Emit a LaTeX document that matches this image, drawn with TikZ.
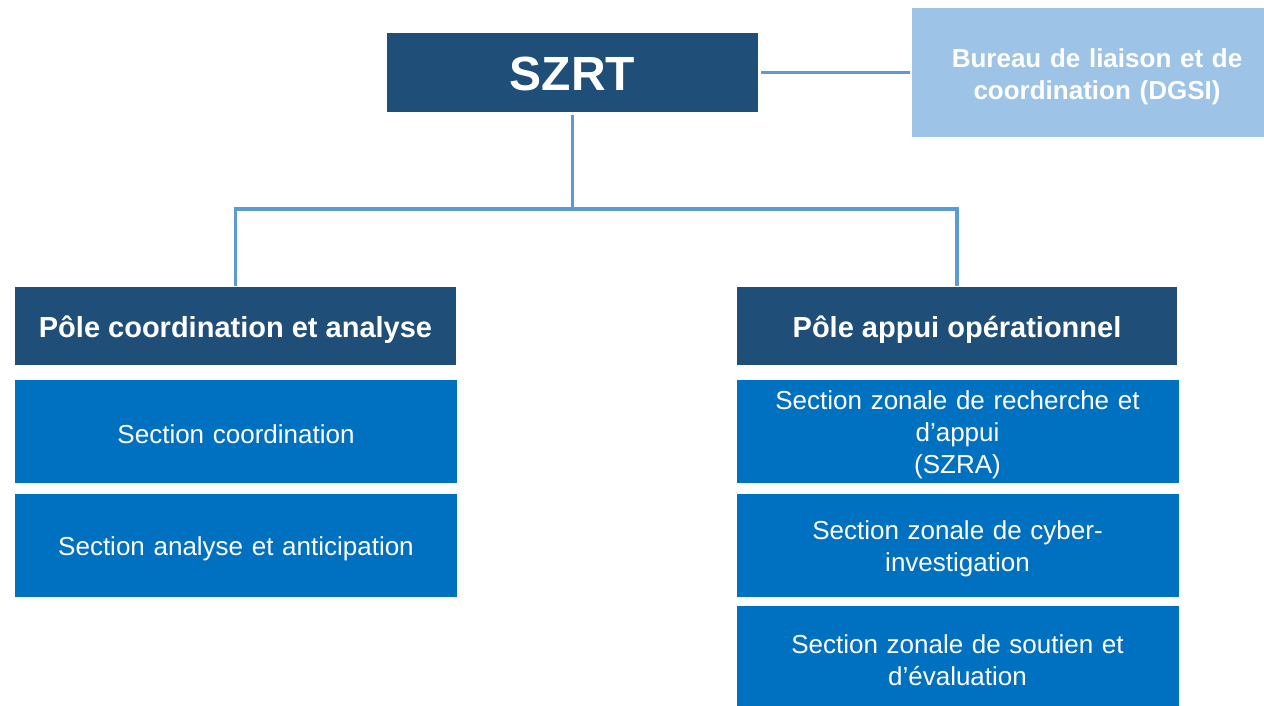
\documentclass[tikz,border=0pt]{standalone}
\usepackage{fontspec}
\setmainfont{Liberation Sans}
\definecolor{darkb}{HTML}{1F4E79}
\definecolor{midb}{HTML}{0070C0}
\definecolor{lightb}{HTML}{9DC3E6}
\definecolor{lineb}{HTML}{5B9BD5}
\tikzset{
  box/.style={rectangle, inner sep=0pt, outer sep=0pt},
  txt/.style={inner sep=0pt, text=white, align=center},
  headbox/.style={box, fill=darkb},
  headtxt/.style={txt, font=\bfseries\fontsize{29}{34}\selectfont},
  secbox/.style={box, fill=midb, minimum width=442pt, minimum height=103pt},
  sectxt/.style={txt, font=\fontsize{26}{32}\selectfont, text width=420pt},
  conn/.style={draw=lineb, line width=3.5pt}
}
\begin{document}
\begin{tikzpicture}[x=1pt,y=-1pt]
\useasboundingbox (0,0) rectangle (1264,705);
\fill[white] (0,0) rectangle (1264,705);
% boxes
\node[headbox, minimum width=371pt, minimum height=79pt] (szrt) at (572.5,72.5) {};
\node[box, fill=lightb, minimum width=370pt, minimum height=129pt] (bur) at (1097,72.5) {};
\node[headbox, minimum width=441pt, minimum height=78pt] (pca) at (235.5,326) {};
\node[headbox, minimum width=440pt, minimum height=78pt] (poa) at (957,326) {};
\node[secbox] (sc) at (236,431.5) {};
\node[secbox] (sa) at (236,545.5) {};
\node[secbox] (szra) at (957.5,431.5) {};
\node[secbox] (cyb) at (957.5,545.5) {};
\node[secbox] (sout) at (957.5,657.5) {};
% texts
\node[txt, font=\bfseries\fontsize{48}{54}\selectfont] (szrt-t) at ([yshift=-1.5pt]szrt.center) {SZRT};
\node[txt, text width=340pt, font=\bfseries\fontsize{26}{32}\selectfont] (bur-t) at ([yshift=-4pt]bur.center) {Bureau de liaison et de\\coordination (DGSI)};
\node[headtxt] (pca-t) at ([yshift=-3.5pt]pca.center) {Pôle coordination et analyse};
\node[headtxt] (poa-t) at ([yshift=-3.5pt]poa.center) {Pôle appui opérationnel};
\node[sectxt] (sc-t) at ([yshift=-2.5pt]sc.center) {Section coordination};
\node[sectxt] (sa-t) at ([yshift=-3.5pt]sa.center) {Section analyse et anticipation};
\node[sectxt] (szra-t) at ([yshift=-3.5pt]szra.center) {Section zonale de recherche et\\d’appui\\(SZRA)};
\node[sectxt] (cyb-t) at ([yshift=-3.5pt]cyb.center) {Section zonale de cyber-\\investigation};
\node[sectxt] (sout-t) at ([yshift=-2.5pt]sout.center) {Section zonale de soutien et\\d’évaluation};
% connectors
\coordinate (busy) at (0,209);
\draw[conn] ([xshift=3pt]szrt.east) -- ([xshift=-2pt]bur.west |- szrt.east);
\draw[conn] ([yshift=-3pt]szrt.south) -- (szrt.south |- busy);
\draw[conn] ([yshift=1pt]pca.north) -- (pca.north |- busy) -- (poa.north |- busy) -- ([yshift=1pt]poa.north);
\end{tikzpicture}
\end{document}
